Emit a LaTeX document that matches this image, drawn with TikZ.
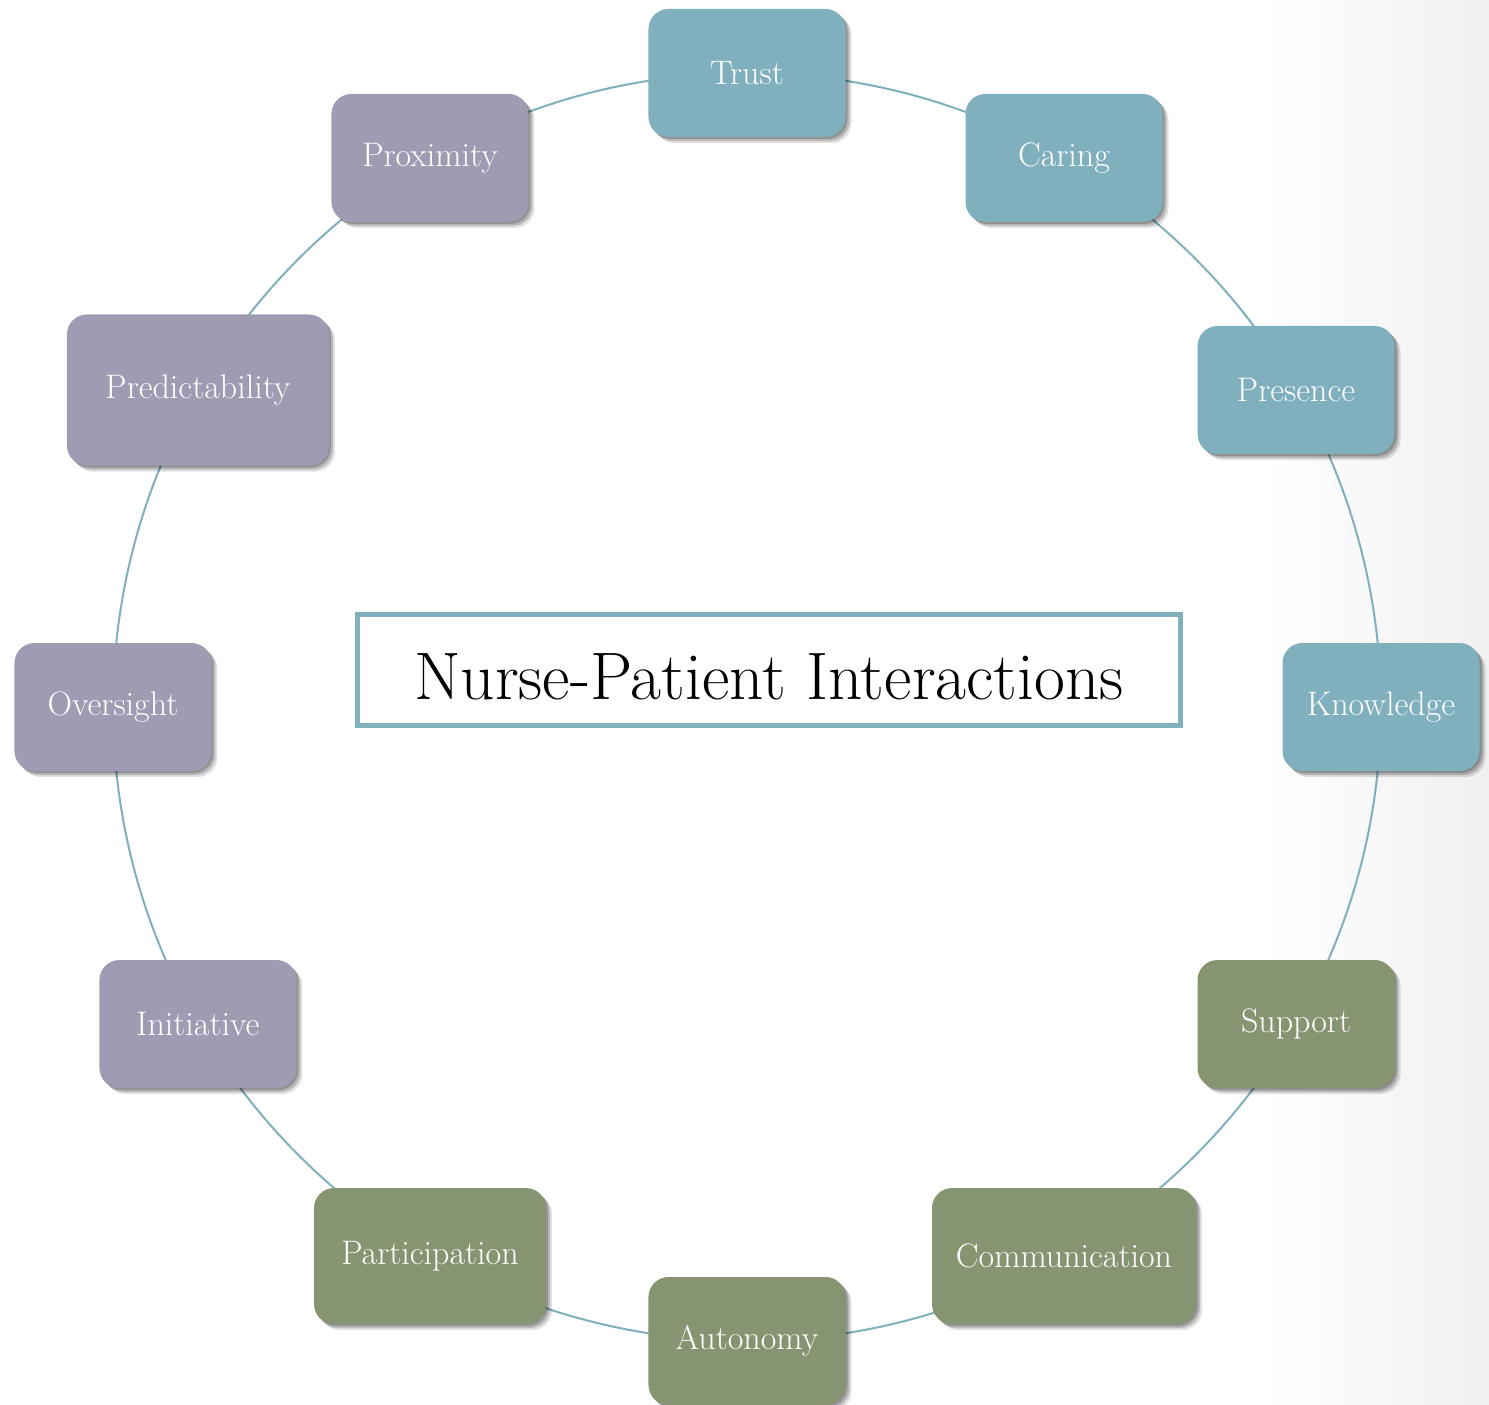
\documentclass[tikz,border=0pt]{standalone}
\usepackage{tikz}
\usetikzlibrary{shadows}
\usetikzlibrary{backgrounds}
\definecolor{ringteal}{HTML}{80AFBD}
\definecolor{ringlilac}{HTML}{9F9BB3}
\definecolor{ringolive}{HTML}{879472}
\tikzset{softshadow/.style={drop shadow={shadow xshift=1pt,shadow yshift=-1pt,opacity=.2,fill=black},
                            drop shadow={shadow xshift=2pt,shadow yshift=-2pt,opacity=.18,fill=black},
                            drop shadow={shadow xshift=3pt,shadow yshift=-3pt,opacity=.12,fill=black}}}
\tikzset{basic/.style={rounded corners=10pt,text=white,
                       font=\fontsize{17}{20}\selectfont,
                       minimum width=98.5pt,minimum height=64pt,softshadow}}
\tikzset{topic/.style={basic,fill=#1}}
\tikzset{link/.style={draw=ringteal,line width=1pt}}
\def\ringrad{317pt}

\begin{document}
\begin{tikzpicture}
    \useasboundingbox (-373.5pt,-348.5pt) rectangle (371pt,353.5pt);

    \foreach \nm/\txt/\ang/\col/\bw/\bh in {
        trust/Trust/90/ringteal/98.5/64,
        caring/Caring/60/ringteal/98.5/64,
        presence/Presence/30/ringteal/98.5/64,
        knowledge/Knowledge/0/ringteal/98.5/64,
        support/Support/-30/ringolive/98.5/64,
        communication/Communication/-60/ringolive/132/68,
        autonomy/Autonomy/-90/ringolive/98.5/64,
        participation/Participation/-120/ringolive/116/68,
        initiative/Initiative/-150/ringlilac/98.5/64,
        oversight/Oversight/180/ringlilac/98.5/64,
        predictability/Predictability/150/ringlilac/131/75.5,
        proximity/Proximity/120/ringlilac/98.5/64}{%
          \node[topic=\col,minimum width=\bw pt,minimum height=\bh pt] (\nm) at (\ang:\ringrad) {\txt};
    }

    \begin{scope}[on background layer]
    % grey along the right edge
    \shade[left color=white,right color=black!6]
        (260pt,-348.5pt) rectangle (371pt,353.5pt);
    % the ring, clockwise from the top, centre to centre under the boxes
    \foreach \a/\b in {trust/caring,caring/presence,presence/knowledge,
                       knowledge/support,support/communication,
                       communication/autonomy,autonomy/participation,
                       participation/initiative,initiative/oversight,
                       oversight/predictability,predictability/proximity,
                       proximity/trust}
        \draw[link] (\a.center) to[bend left=15,looseness=0.866] (\b.center);
    \end{scope}

    % Title
    \node[draw=ringteal,line width=2.5pt,fill=white,minimum width=411pt,
          minimum height=55.5pt,font=\fontsize{33.6}{40}\selectfont]
        (title) at (11pt,18.75pt) {\raisebox{-15pt}[0pt][0pt]{Nurse-Patient Interactions}};
\end{tikzpicture}
\end{document}
